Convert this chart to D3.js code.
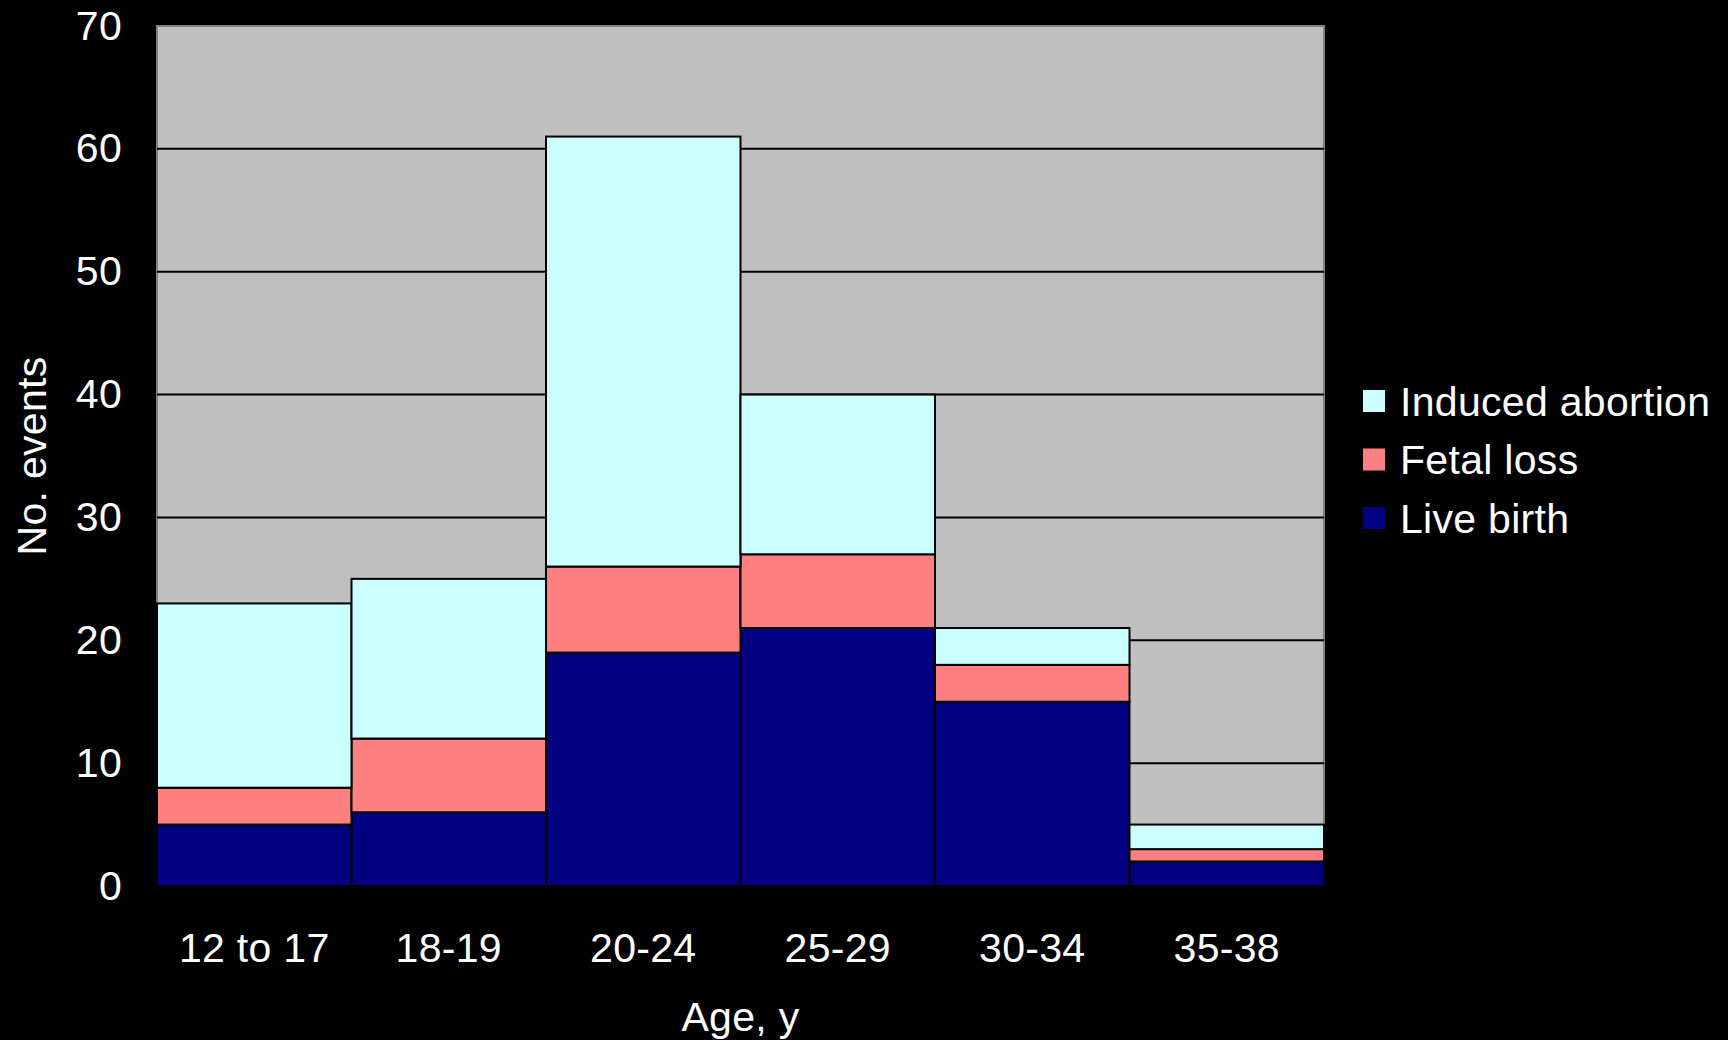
<!DOCTYPE html>
<html>
<head>
<meta charset="utf-8">
<script src="https://cdn.jsdelivr.net/npm/d3@7"></script>
<style>
  html, body { margin: 0; padding: 0; background: #000; }
  svg { display: block; }
  text { font-family: "Liberation Sans", Arial, sans-serif; fill: #fff; letter-spacing: 0.3px; }
</style>
</head>
<body>
<svg id="chart" width="1728" height="1040"></svg>
<script>
// Pregnancy outcomes by maternal age group (stacked counts)
const ageGroups = ["12 to 17", "18-19", "20-24", "25-29", "30-34", "35-38"];
const liveBirth = [5, 6, 19, 21, 15, 2];
const fetalLoss = [3, 6, 7, 6, 3, 1];
const inducedAbortion = [15, 13, 35, 13, 3, 2];
const yTicks = [0, 10, 20, 30, 40, 50, 60, 70];

const seriesNames = ["Live birth", "Fetal loss", "Induced abortion"];
const seriesColors = ["#000080", "#FF8080", "#CCFFFF"];
const FONT = 41;

const rows = ageGroups.map((g, i) => ({
  group: g,
  "Live birth": liveBirth[i],
  "Fetal loss": fetalLoss[i],
  "Induced abortion": inducedAbortion[i]
}));

const svg = d3.select("#chart");
const plot = { left: 157, right: 1324, top: 26, bottom: 886 };

const x = d3.scaleBand().domain(ageGroups).range([plot.left, plot.right]).padding(0);
const y = d3.scaleLinear().domain([0, 70]).range([plot.bottom, plot.top]);
const color = d3.scaleOrdinal().domain(seriesNames).range(seriesColors);

// Plot background
svg.append("rect")
  .attr("x", plot.left).attr("y", plot.top)
  .attr("width", plot.right - plot.left).attr("height", plot.bottom - plot.top)
  .attr("fill", "#C0C0C0")
  .attr("stroke", "#808080").attr("stroke-width", 2);

// Horizontal gridlines
svg.append("g")
  .selectAll("line")
  .data(yTicks.filter(t => t > 0 && t < 70))
  .join("line")
  .attr("x1", plot.left).attr("x2", plot.right)
  .attr("y1", d => y(d)).attr("y2", d => y(d))
  .attr("stroke", "#000").attr("stroke-width", 2);

// Stacked bars
const stacked = d3.stack().keys(seriesNames)(rows);
svg.append("g")
  .selectAll("g")
  .data(stacked)
  .join("g")
  .attr("fill", d => color(d.key))
  .selectAll("rect")
  .data(d => d)
  .join("rect")
  .attr("x", d => x(d.data.group))
  .attr("width", x.bandwidth())
  .attr("y", d => y(d[1]))
  .attr("height", d => y(d[0]) - y(d[1]))
  .attr("stroke", "#000").attr("stroke-width", 2);

// Y axis labels
const yAxis = d3.axisLeft(y).tickValues(yTicks).tickSize(0).tickPadding(35);
const gy = svg.append("g").attr("transform", `translate(${plot.left},0)`).call(yAxis);
gy.select(".domain").remove();
gy.selectAll("text")
  .attr("font-size", FONT)
  .attr("font-family", "Liberation Sans, Arial, sans-serif")
  .attr("fill", "#fff");

// X axis labels
const xAxis = d3.axisBottom(x).tickSize(0).tickPadding(0);
const gx = svg.append("g").attr("transform", `translate(0,${plot.bottom})`).call(xAxis);
gx.select(".domain").remove();
gx.selectAll("text")
  .attr("dy", null)
  .attr("y", 76)
  .attr("font-size", FONT)
  .attr("font-family", "Liberation Sans, Arial, sans-serif")
  .attr("fill", "#fff");

// Axis titles
svg.append("text")
  .attr("x", (plot.left + plot.right) / 2).attr("y", 1031)
  .attr("text-anchor", "middle").attr("font-size", FONT)
  .text("Age, y");

svg.append("text")
  .attr("transform", `translate(46,${(plot.top + plot.bottom) / 2}) rotate(-90)`)
  .attr("text-anchor", "middle").attr("font-size", FONT)
  .text("No. events");

// Legend
const legendItems = ["Induced abortion", "Fetal loss", "Live birth"];
const legend = svg.append("g").attr("transform", "translate(1363,401)");
const li = legend.selectAll("g")
  .data(legendItems)
  .join("g")
  .attr("transform", (d, i) => `translate(0,${i * 58.5})`);
li.append("rect")
  .attr("x", 0).attr("y", -11).attr("width", 22).attr("height", 22)
  .attr("fill", d => color(d));
li.append("text")
  .attr("x", 37).attr("y", 14.5)
  .attr("font-size", FONT)
  .text(d => d);
</script>
</body>
</html>
